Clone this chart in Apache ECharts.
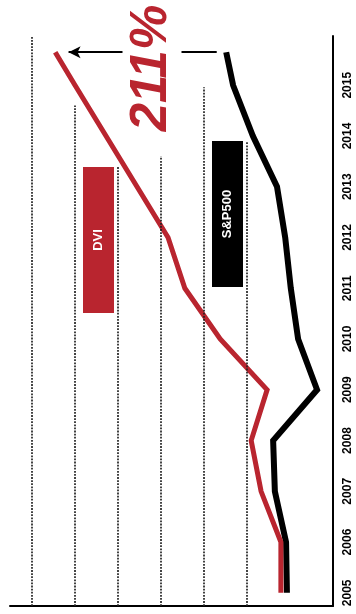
<!DOCTYPE html>
<html>
<head>
<meta charset="utf-8">
<script src="https://cdn.jsdelivr.net/npm/echarts@6/dist/echarts.min.js"></script>
<style>
  html, body { margin: 0; padding: 0; background: #fff; }
  #chart { width: 356px; height: 614px; }
</style>
</head>
<body>
<div id="chart"></div>
<script>
  // years (last point is part of 2015)
  const years = [2005, 2006, 2007, 2008, 2009, 2010, 2011, 2012, 2013, 2014, 2015, 2015.65]
  const yearLabels = [2005, 2006, 2007, 2008, 2009, 2010, 2011, 2012, 2013, 2014, 2015]
  // index values
  const dvi = [121, 121, 167, 190, 153, 262, 344, 383, 455, 527, 599, 645]
  const sp500 = [107, 109, 135, 139, 37, 81, 98, 111, 130, 186, 232, 248]
  const gridValues = [100, 200, 300, 400, 500, 600, 700]

  const RED = '#B9252F'
  const yearMin = 2004.74
  const yearMax = 2015.97
  // where each dotted grid line stops at the top
  const gridTops = [2015.98, 2013.9, 2014.96, 2013.6, 2013.39, 2014.6, 2015.96]

  let myChart = echarts.init(document.getElementById('chart'))
  myChart.setOption({
    animation: false,
    grid: { left: 10, right: 23, top: 36, bottom: 8 },
    xAxis: {
      type: 'value',
      inverse: true,
      min: 0,
      max: 750,
      interval: 100,
      axisLine: { show: true, lineStyle: { color: '#000', width: 2 } },
      axisTick: { show: false },
      axisLabel: { show: false },
      splitLine: { show: false }
    },
    yAxis: {
      type: 'value',
      position: 'right',
      min: yearMin,
      max: yearMax,
      axisLine: { show: true, onZero: false, lineStyle: { color: '#000', width: 2 } },
      axisTick: { show: false },
      splitLine: { show: false },
      axisLabel: {
        customValues: yearLabels,
        rotate: 90,
        margin: 9,
        fontFamily: 'Liberation Sans',
        fontWeight: 'bold',
        fontSize: 12,
        color: '#000',
        formatter: (v) => String(Math.round(v))
      }
    },
    series: [
      {
        type: 'line',
        data: [],
        silent: true,
        markLine: {
          silent: true,
          symbol: ['none', 'none'],
          label: { show: false },
          lineStyle: { color: '#222', width: 1.7, type: [1.8, 1.3] },
          data: gridValues.map((v, i) => [
            { coord: [v, yearMin] },
            { coord: [v, gridTops[i]] }
          ])
        }
      },
      {
        name: 'S&P500',
        type: 'line',
        data: sp500.map((v, i) => [v, years[i]]),
        showSymbol: false,
        lineStyle: { color: '#000', width: 6, join: 'miter' },
        markLine: {
          silent: true,
          symbol: ['none', 'arrow'],
          symbolSize: [9, 12],
          label: { show: false },
          lineStyle: { color: '#000', width: 2, type: 'solid' },
          data: [[
            { coord: [270, years[years.length - 1]] },
            { coord: [614, years[years.length - 1]] }
          ]]
        }
      },
      {
        name: 'DVI',
        type: 'line',
        data: dvi.map((v, i) => [v, years[i]]),
        showSymbol: false,
        lineStyle: { color: RED, width: 5, join: 'miter' }
      }
    ],
    graphic: [
      {
        type: 'rect',
        shape: { x: 83, y: 167, width: 31, height: 146 },
        style: { fill: RED },
        z: 10
      },
      {
        type: 'text',
        x: 98.5, y: 240, rotation: Math.PI / 2,
        style: {
          text: 'DVI', fill: '#fff', font: 'bold 13px "Liberation Sans"',
          align: 'center', verticalAlign: 'middle'
        },
        z: 11
      },
      {
        type: 'rect',
        shape: { x: 212, y: 141, width: 31, height: 146 },
        style: { fill: '#000' },
        z: 10
      },
      {
        type: 'text',
        x: 227.5, y: 214, rotation: Math.PI / 2,
        style: {
          text: 'S&P500', fill: '#fff', font: 'bold 13px "Liberation Sans"',
          align: 'center', verticalAlign: 'middle'
        },
        z: 11
      },
      {
        type: 'text',
        x: 152, y: 68, rotation: Math.PI / 2,
        style: {
          text: '211%', fill: RED, font: 'italic bold 51px "Liberation Sans"',
          align: 'center', verticalAlign: 'middle',
          backgroundColor: '#fff', padding: [4, 6]
        },
        z: 12
      }
    ]
  })
</script>
</body>
</html>
